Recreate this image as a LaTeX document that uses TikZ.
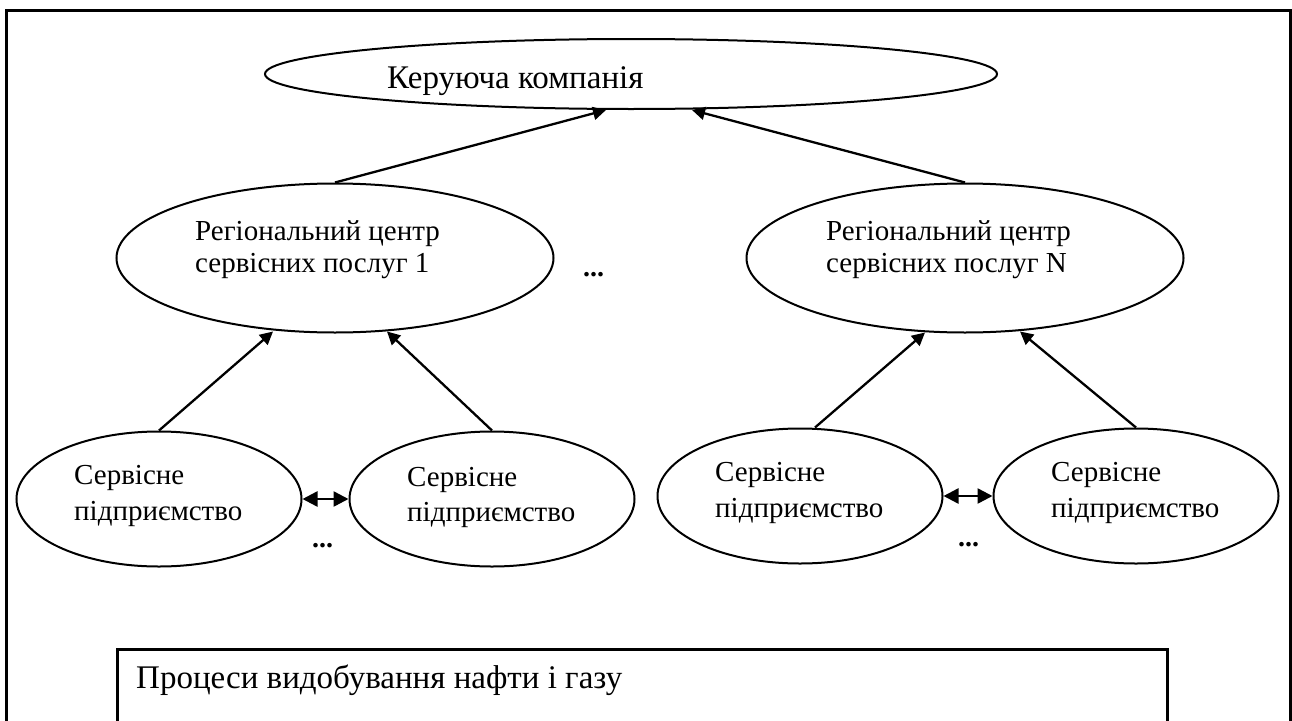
\documentclass[tikz,border=0pt]{standalone}
\usepackage{fontspec}
\setmainfont{Liberation Serif}
\usetikzlibrary{arrows.meta,calc,shapes.geometric}
\begin{document}
\begin{tikzpicture}[x=1pt,y=-1pt,
  oval/.style={draw, ellipse, line width=2pt, inner sep=0pt},
  lbl/.style={anchor=base west, inner sep=0pt, font=\fontsize{29}{34}\selectfont},
  biglbl/.style={anchor=base west, inner sep=0pt, font=\fontsize{33}{38}\selectfont},
  dots/.style={anchor=base west, inner sep=0pt, font=\fontsize{28}{32}\selectfont\bfseries},
  arr/.style={line width=2.3pt, -{Triangle[length=13pt,width=13pt]}},
  darr/.style={line width=2.5pt, {Triangle[length=15pt,width=15pt]}-{Triangle[length=15pt,width=15pt]}},
  frameline/.style={line width=3pt}]
\useasboundingbox (0,0) rectangle (1292,720);
\fill[white] (0,0) rectangle (1292,720);
% frame and process box
\draw[frameline] (6,740) -- (6,10) -- (1290,10) -- (1290,740);
\node[draw, line width=3pt, anchor=north west, minimum width=1050pt, minimum height=110pt, inner sep=0pt] (proc) at (116,648) {};
\node[biglbl] (tproc) at (136,688) {Процеси видобування нафти і газу};
% ellipses
\node[oval, minimum width=732pt, minimum height=70pt] (top) at (631,74) {};
\node[oval, minimum width=437pt, minimum height=149pt] (r1) at (335,258) {};
\node[oval, minimum width=437pt, minimum height=149pt] (rn) at (965,258) {};
\node[oval, minimum width=285pt, minimum height=135pt] (b1) at (159,499) {};
\node[oval, minimum width=285pt, minimum height=135pt] (b2) at (492,499) {};
\node[oval, minimum width=285pt, minimum height=135pt] (b3) at (800,496) {};
\node[oval, minimum width=285pt, minimum height=135pt] (b4) at (1136,496) {};
% texts
\node[biglbl] (ttop) at (387,88) {Керуюча компанія};
\node[lbl] (t1a) at (195,240) {Регіональний центр};
\node[lbl] (t1b) at (195,272) {сервісних послуг 1};
\node[lbl] (tna) at (826,240) {Регіональний центр};
\node[lbl] (tnb) at (826,272) {сервісних послуг N};
\node[lbl] (b1a) at (74,484) {Сервісне};
\node[lbl] (b1b) at (74,520) {підприємство};
\node[lbl] (b2a) at (407,486) {Сервісне};
\node[lbl] (b2b) at (407,521) {підприємство};
\node[lbl] (b3a) at (715,481) {Сервісне};
\node[lbl] (b3b) at (715,517) {підприємство};
\node[lbl] (b4a) at (1051,481) {Сервісне};
\node[lbl] (b4b) at (1051,517) {підприємство};
\node[dots] (d1) at (583,276) {...};
\node[dots] (d2) at (312,547) {...};
\node[dots] (d3) at (958,546) {...};
% arrows
\draw[arr] (r1.north) -- ($(top.south)+(-25,0)$);
\draw[arr] (rn.north) -- ($(top.south)+(61,0)$);
\draw[arr] (b1.north) -- ($(r1.south)+(-62,-2)$);
\draw[arr] (b2.north) -- ($(r1.south)+(52,-2)$);
\draw[arr] ($(b3.north)+(15,0)$) -- ($(rn.south)+(-40,-1)$);
\draw[arr] (b4.north) -- ($(rn.south)+(55,-2)$);
\draw[darr] (b1.east) -- (b2.west);
\draw[darr] (b3.east) -- (b4.west);
\end{tikzpicture}
\end{document}
